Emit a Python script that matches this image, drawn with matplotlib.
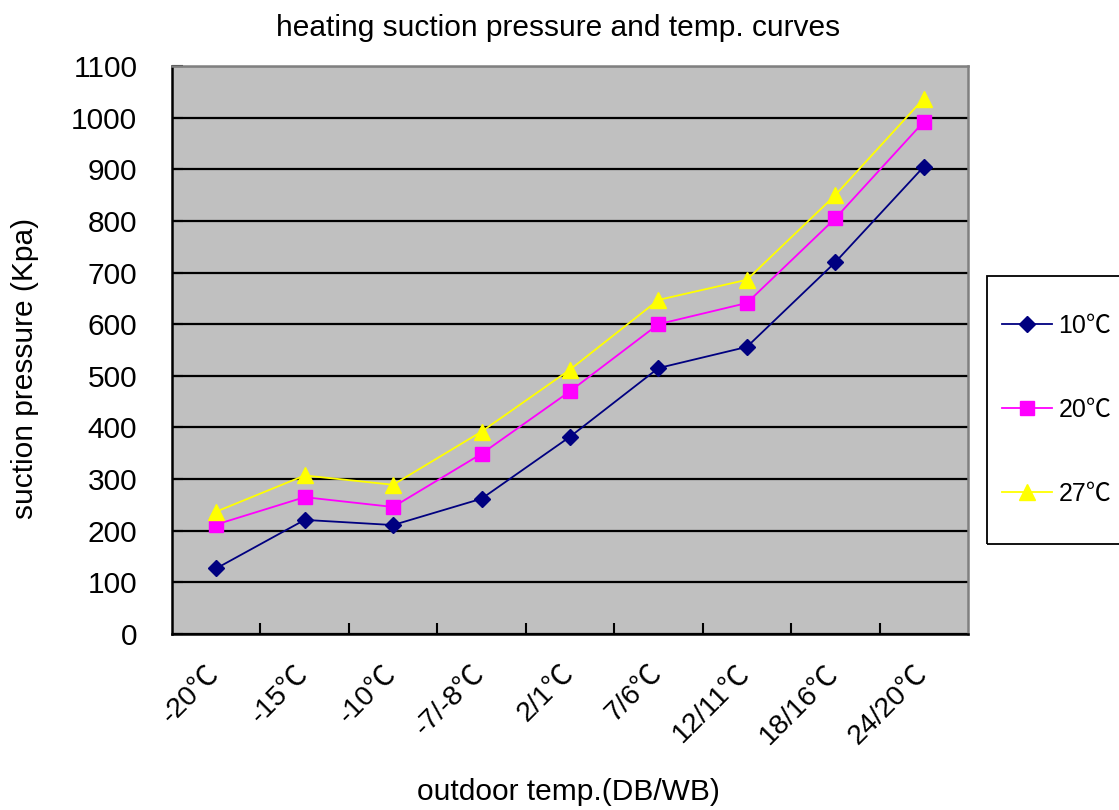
import matplotlib
matplotlib.use("Agg")
import matplotlib.pyplot as plt
from matplotlib.patches import Rectangle

plt.rcParams['font.family'] = ['Liberation Sans', 'Noto Sans CJK SC', 'DejaVu Sans']

# outdoor temperature categories (DB/WB)
categories = ['-20℃', '-15℃', '-10℃', '-7/-8℃', '2/1℃', '7/6℃', '12/11℃', '18/16℃', '24/20℃']

# suction pressure (Kpa) for each indoor temp
p_10 = [127, 221, 211, 262, 382, 515, 556, 720, 905]
p_20 = [212, 265, 246, 349, 470, 600, 641, 805, 992]
p_27 = [237, 307, 289, 392, 512, 647, 686, 850, 1037]

series_names = ['10℃', '20℃', '27℃']

fig = plt.figure(figsize=(11.19, 8.1), dpi=100)
ax = fig.add_axes([172 / 1119, 1 - 634 / 810, (968 - 172) / 1119, (634 - 66) / 810])
ax.set_facecolor('#C0C0C0')

x = list(range(len(categories)))
ax.plot(x, p_10, color='#000080', marker='D', markersize=8.5, lw=1.3, label=series_names[0])
ax.plot(x, p_20, color='#FF00FF', marker='s', markersize=9.5, lw=1.3, label=series_names[1])
ax.plot(x, p_27, color='#FFFF00', marker='^', markersize=11, lw=1.3, label=series_names[2])

ax.set_xlim(-0.5, len(categories) - 0.5)
ax.set_ylim(0, 1100)
ax.set_yticks(range(0, 1101, 100))
ax.yaxis.grid(True, color='black', lw=1.6)
ax.set_axisbelow(True)
ax.tick_params(axis='y', direction='in', length=8, width=1.5, labelsize=21.5, pad=25)

# tick marks between categories, labels under category centres
ax.set_xticks([i + 0.5 for i in range(len(categories) - 1)])
ax.set_xticklabels([])
ax.set_xticks(x, minor=True)
ax.set_xticklabels(categories, minor=True, rotation=45, ha='right', va='center',
                   rotation_mode='anchor', fontsize=20.5)
ax.tick_params(axis='x', which='major', direction='in', length=8, width=1.5)
ax.tick_params(axis='x', which='minor', length=0, pad=26)

for s in ['left', 'bottom']:
    ax.spines[s].set_color('black')
    ax.spines[s].set_linewidth(1.8)
for s in ['top', 'right']:
    ax.spines[s].set_color('#808080')
    ax.spines[s].set_linewidth(1.8)

fig.text(25 / 1119, 1 - 368 / 810, 'suction pressure (Kpa)', fontsize=21.5, rotation=90,
         ha='center', va='center')
fig.text(568 / 1119, 1 - 792 / 810, 'outdoor temp.(DB/WB)', fontsize=21.5, ha='center', va='center')
fig.text(558 / 1119, 1 - 28 / 810, 'heating suction pressure and temp. curves', fontsize=21.5,
         ha='center', va='center')

# legend box runs off the right edge like the original
fig.patches.append(Rectangle((987 / 1119, 1 - 544 / 810), 200 / 1119, 268 / 810,
                             transform=fig.transFigure, fill=False, ec='black', lw=1.3))
fig.legend(loc='center left', bbox_to_anchor=(1002 / 1119, 1 - 410 / 810), frameon=False,
           fontsize=18, labelspacing=2.4, handlelength=2.0, handletextpad=0.25,
           borderpad=0, borderaxespad=0)

fig.savefig('out.png', dpi=100)
